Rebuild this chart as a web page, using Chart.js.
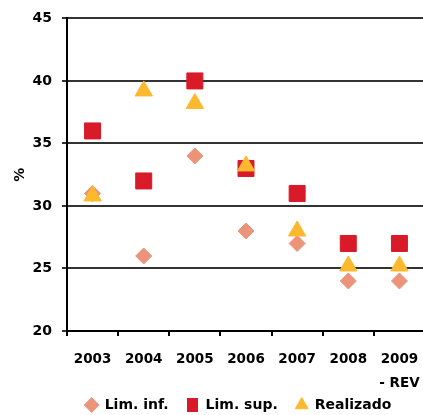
<!DOCTYPE html>
<html>
<head>
<meta charset="utf-8">
<script src="https://cdn.jsdelivr.net/npm/chart.js@4/dist/chart.umd.min.js"></script>
<style>
  html, body { margin: 0; padding: 0; background: #fff; overflow: hidden; }
  #wrap { width: 423px; height: 415px; overflow: hidden; position: relative; }
  canvas { display: block; }
</style>
</head>
<body>
<div id="wrap"><canvas id="c" width="476" height="436"></canvas></div>
<script>
const years = ['2003', '2004', '2005', '2006', '2007', '2008', ['2009', '- REV']];
const limInf = [31, 26, 34, 28, 27, 24, 24];
const limSup = [36, 32, 40, 33, 31, 27, 27];
const realizado = [30.8, 39.2, 38.2, 33.2, 28.0, 25.2, 25.2];
const yTicks = [20, 25, 30, 35, 40, 45];
const seriesNames = ['Lim. inf.', 'Lim. sup.', 'Realizado'];

const FONT = 'DejaVu Sans';
const COLORS = ['#EB9479', '#D81A29', '#FDB92D'];

// legend marker for "Lim. sup." (slightly tall rectangle, as in the original legend)
const supLegendMark = document.createElement('canvas');
supLegendMark.width = 11; supLegendMark.height = 14;
(function () {
  const g = supLegendMark.getContext('2d');
  g.fillStyle = COLORS[1];
  g.fillRect(0, 0, 11, 14);
})();

const legendShift = {
  id: 'legendShift',
  afterLayout(chart) {
    const l = chart.legend;
    if (!l) return;
    l.left += 26; l.right += 26;
    l.top -= 14; l.bottom -= 14;
  }
};

new Chart(document.getElementById('c'), {
  type: 'line',
  data: {
    labels: years,
    datasets: [
      {
        label: seriesNames[0], data: limInf, showLine: false,
        pointStyle: 'rectRot', pointRadius: 8, pointHoverRadius: 8,
        backgroundColor: COLORS[0], borderColor: COLORS[0], borderWidth: 1, order: 3
      },
      {
        label: seriesNames[1], data: limSup, showLine: false,
        pointStyle: 'rect', pointRadius: 11.3, pointHoverRadius: 11.3,
        backgroundColor: COLORS[1], borderColor: COLORS[1], borderWidth: 1, order: 2
      },
      {
        label: seriesNames[2], data: realizado, showLine: false,
        pointStyle: 'triangle', pointRadius: 10, pointHoverRadius: 10,
        backgroundColor: COLORS[2], borderColor: COLORS[2], borderWidth: 1, order: 1
      }
    ]
  },
  plugins: [legendShift],
  options: {
    responsive: false,
    animation: false,
    events: [],
    layout: { padding: { top: 18, right: 51, bottom: 0, left: 0 } },
    plugins: {
      tooltip: { enabled: false },
      legend: {
        position: 'bottom',
        labels: {
          usePointStyle: true,
          boxWidth: 12,
          boxHeight: 10.5,
          padding: 18,
          color: '#000',
          font: { family: FONT, size: 14, weight: 'bold' },
          sort: (a, b) => a.datasetIndex - b.datasetIndex,
          generateLabels: (chart) => {
            const items = Chart.defaults.plugins.legend.labels.generateLabels(chart);
            items.forEach(it => { if (it.datasetIndex === 1) it.pointStyle = supLegendMark; });
            return items;
          }
        }
      }
    },
    scales: {
      x: {
        type: 'category',
        offset: true,
        grid: {
          offset: true,
          drawOnChartArea: false,
          drawTicks: true,
          tickLength: 5,
          color: '#000',
          lineWidth: 2
        },
        border: { display: true, color: '#000', width: 2 },
        ticks: {
          color: '#000',
          padding: 11,
          maxRotation: 0,
          autoSkip: false,
          font: { family: FONT, size: 13.5, weight: 'bold', lineHeight: 1.78 }
        },
        afterFit: (s) => { s.height = 63; }
      },
      y: {
        min: 20, max: 45,
        afterBuildTicks: (s) => { s.ticks = yTicks.map(v => ({ value: v })); },
        grid: {
          color: '#333',
          lineWidth: 2,
          drawTicks: true,
          tickLength: 5
        },
        border: { display: true, color: '#000', width: 2 },
        ticks: {
          color: '#000',
          padding: 10,
          font: { family: FONT, size: 14, weight: 'bold' }
        },
        title: {
          display: true,
          text: '%',
          color: '#000',
          padding: { top: 12, bottom: 0 },
          font: { family: FONT, size: 14, weight: 'bold' }
        },
        afterFit: (s) => { s.width = 67; }
      }
    }
  }
});
</script>
</body>
</html>
